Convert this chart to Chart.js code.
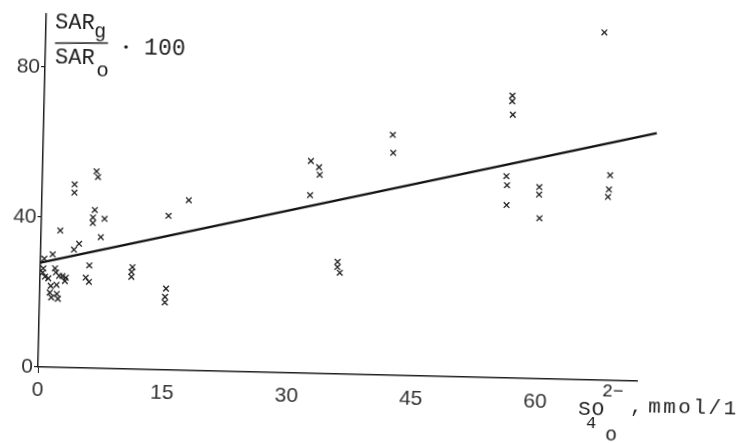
<!DOCTYPE html>
<html>
<head>
<meta charset="utf-8">
<script src="https://cdn.jsdelivr.net/npm/chart.js@4/dist/chart.umd.min.js"></script>
<style>
  html, body { margin: 0; padding: 0; background: #fff; overflow: hidden; }
  /* the scan is slightly rotated, so the whole drawing is tilted about the axes' origin */
  #wrap { width: 747px; height: 443px; transform: rotate(1.35deg); transform-origin: 38px 367px; }
</style>
</head>
<body>
<div id="wrap"><canvas id="chart" width="747" height="443"></canvas></div>
<script>
// SO4 concentration (mmol/l) and SAR_g / SAR_o * 100 for each sample
const so4 = [
  6.5, 6.7, 3.9, 3.9, 6.4, 6.2, 6.2, 7.6, 2.3, 7.2, 4.6, 4.0, 1.45, 0.45,
  0.36, 0.3, 0.59, 0.99, 1.77, 1.9, 2.3, 2.7, 3.1, 3.0, 5.9, 5.5, 5.9,
  1.3, 2.0, 1.2, 1.4, 2.05, 2.2,
  11.1, 11.0, 11.0, 15.2, 15.1, 15.1, 15.3, 17.7,
  32.3, 33.3, 33.4, 32.3, 42.1, 42.2, 35.8, 35.8, 36.1,
  67.3, 56.4, 56.4, 56.5, 55.9, 56.0, 56.0, 59.9, 59.9, 60.0, 68.4, 68.3, 68.2
];
const sarRatio = [
  52.5, 51.0, 48.9, 46.7, 42.2, 40.2, 38.7, 39.9, 36.5, 35.0, 33.1, 31.5, 30.1, 28.9,
  26.3, 25.2, 24.1, 23.7, 26.4, 25.3, 24.4, 24.4, 24.0, 23.1, 27.4, 24.1, 23.0,
  21.7, 22.0, 19.9, 18.6, 19.6, 18.3,
  27.2, 25.9, 24.6, 21.7, 19.5, 18.0, 41.1, 45.4,
  56.6, 55.0, 53.0, 47.5, 64.1, 59.3, 29.9, 28.5, 27.0,
  92.7, 75.3, 73.8, 70.2, 53.8, 51.4, 46.1, 51.1, 49.1, 42.8, 54.7, 50.9, 48.9
];

// regression line end points
const fitX = [0, 73.9];
const fitY = [27.8, 66.2];

const xTicks = [0, 15, 30, 45, 60];
const yTicks = [0, 40, 80];

const ink = "#1e1e1e";
const tickFont = { family: '"Liberation Sans", Arimo, sans-serif', size: 21 };
const typeFont = '"Liberation Mono", "DejaVu Sans Mono", monospace';

// undo the css tilt so text lands where it is in the scan
const TILT = 1.35 * Math.PI / 180;
function at(px, py) {
  const dx = px - 38, dy = py - 367;
  return [38 + dx * Math.cos(TILT) + dy * Math.sin(TILT), 367 - dx * Math.sin(TILT) + dy * Math.cos(TILT)];
}
function put(ctx, text, px, py, size, spacing) {
  const p = at(px, py);
  ctx.font = size + "px " + typeFont;
  ctx.letterSpacing = (spacing || 0) + "px";
  ctx.fillText(text, p[0], p[1]);
}

// axis captions written like the typed labels of the original figure
const captions = {
  id: "captions",
  afterDraw(chart) {
    const ctx = chart.ctx;
    ctx.save();
    ctx.fillStyle = ink;
    ctx.strokeStyle = ink;
    ctx.textBaseline = "alphabetic";
    ctx.textAlign = "left";

    // y caption: SAR_g / SAR_o . 100
    put(ctx, "SAR", 55, 28, 22);
    put(ctx, "g", 94, 37, 20);
    let a = at(55, 43), b = at(108, 43);
    ctx.lineWidth = 1.4;
    ctx.beginPath(); ctx.moveTo(a[0], a[1]); ctx.lineTo(b[0], b[1]); ctx.stroke();
    put(ctx, "SAR", 55, 63, 22);
    put(ctx, "o", 96, 76, 21);
    const d = at(126, 47);
    ctx.beginPath(); ctx.arc(d[0], d[1], 1.8, 0, 2 * Math.PI); ctx.fill();
    put(ctx, "100", 144, 54, 23);

    // x caption: SO4 2- o , mmol/1
    put(ctx, "SO", 578, 415, 21, 1);
    put(ctx, "2\u2212", 602, 396, 18);
    put(ctx, "4", 586, 428, 17);
    put(ctx, "o", 605, 440, 20);
    put(ctx, ",", 630, 412, 20);
    put(ctx, "mmol/1", 648, 412, 21, 2.5);
    ctx.restore();
  }
};

const pts = so4.map((x, i) => ({ x: x, y: sarRatio[i] }));
const fit = fitX.map((x, i) => ({ x: x, y: fitY[i] }));

new Chart(document.getElementById("chart"), {
  type: "scatter",
  data: {
    datasets: [
      {
        data: pts,
        pointStyle: "crossRot",
        pointRadius: 4,
        borderColor: ink,
        borderWidth: 1.3,
      },
      {
        type: "line",
        data: fit,
        borderColor: "#111",
        borderWidth: 2.4,
        pointRadius: 0,
        showLine: true,
        clip: false,
      },
    ],
  },
  options: {
    responsive: false,
    animation: false,
    events: [],
    layout: { padding: { top: 10, right: 110, left: 0, bottom: 0 } },
    plugins: { legend: { display: false }, tooltip: { enabled: false } },
    scales: {
      x: {
        type: "linear",
        min: 0,
        max: 72.2,
        afterFit: (s) => { s.height = 76; },
        afterBuildTicks: (s) => { s.ticks = xTicks.map((v) => ({ value: v })); },
        border: { color: ink, width: 1.5 },
        grid: {
          drawOnChartArea: false,
          tickLength: 6,
          color: (c) => (c.tick && c.tick.value === 0 ? ink : "rgba(0,0,0,0)"),
        },
        ticks: { color: "#333", font: tickFont, padding: 5, maxRotation: 0 },
      },
      y: {
        type: "linear",
        min: 0,
        max: 94.2,
        afterFit: (s) => { s.width = 38; },
        afterBuildTicks: (s) => { s.ticks = yTicks.map((v) => ({ value: v })); },
        border: { color: ink, width: 1.5 },
        grid: { drawOnChartArea: false, tickLength: 4, color: ink, lineWidth: 1.2 },
        ticks: { color: "#333", font: tickFont, padding: 1 },
      },
    },
  },
  plugins: [captions],
});
</script>
</body>
</html>
